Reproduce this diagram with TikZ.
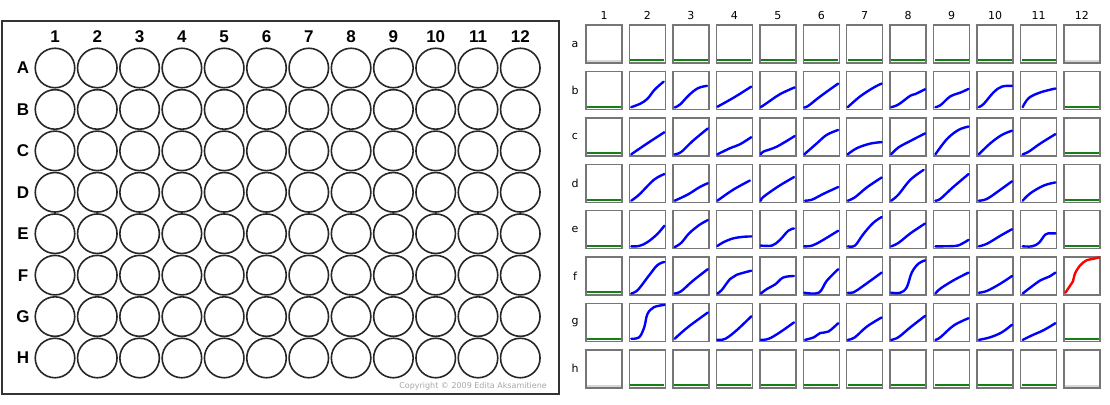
\documentclass[tikz,border=0pt]{standalone}
\usepackage{fontspec}
\setmainfont{DejaVu Sans}
\newfontfamily\platefont{Liberation Sans}
\usetikzlibrary{positioning,calc}

\definecolor{boxgray}{RGB}{118,118,118}
\definecolor{basegreen}{RGB}{20,128,20}
\definecolor{emptygray}{RGB}{215,215,215}

\tikzset{
  well/.style={circle,draw=black!85,line width=1.6pt,minimum size=39.5pt,inner sep=0pt},
  platelab/.style={font=\platefont\bfseries\fontsize{17}{19}\selectfont,inner sep=0pt},
  cellbox/.style={draw=boxgray,line width=1.4pt,minimum width=36pt,minimum height=38pt,inner sep=0pt,outer sep=0pt,anchor=north west},
  gridlab/.style={font=\fontsize{11}{13}\selectfont,inner sep=0pt},
  blueline/.style={draw=blue,line width=2.4pt,line cap=round,line join=round},
  redline/.style={draw=red,line width=2.4pt,line cap=round,line join=round},
  flatline/.style={draw=basegreen,line width=2.1pt},
  emptyline/.style={draw=emptygray,line width=2.1pt}
}

% one growth curve, coordinates in box units
\newcommand{\growth}[3][blueline]{%
  \begin{scope}[shift={(#2.south west)},x=36pt,y=38pt]
    \draw[#1] plot[smooth,tension=0.6] coordinates {#3};
  \end{scope}}

\begin{document}
\begin{tikzpicture}[x=1pt,y=-1pt]
    \useasboundingbox (0,0) rectangle (1110,404);

    % 96-well plate
    \draw[line width=2.2pt,draw=black!80] (2.2,21) rectangle (559,394);
    \foreach \R [count=\i] in {A,B,C,D,E,F,G,H}{
        \node[platelab] (row\R) at (23,{68+(\i-1)*41.43}) {\R};
        \foreach \c in {1,...,12}{
            \node[well] (\R\c) at ({55+(\c-1)*42.3},{68+(\i-1)*41.43}) {};
        }
    }
    \foreach \c in {1,...,12}{
        \node[platelab,anchor=base] (col\c) at ({55+(\c-1)*42.3},42) {\c};
    }
    \node[anchor=east,font=\fontsize{8}{9}\selectfont,text=black!35,inner sep=0pt] (copy) at (547,386) {Copyright \textcopyright{} 2009 Edita Aksamitiene};

    % growth curve grid
    \foreach \r [count=\i] in {a,b,c,d,e,f,g,h}{
        \node[gridlab] (l\r) at (575,{44+(\i-1)*46.4}) {\r};
        \foreach \c in {1,...,12}{
            \node[cellbox] (\r\c) at ({586+(\c-1)*43.45},{25+(\i-1)*46.4}) {};
        }
    }
    \foreach \c in {1,...,12}{
        \node[gridlab,anchor=base] (n\c) at ({604+(\c-1)*43.45},20) {\c};
    }

    % flat wells on the edge
    \foreach \w in {a2,a3,a4,a5,a6,a7,a8,a9,a10,a11,h2,h3,h4,h5,h6,h7,h8,h9,h10,h11,b1,c1,d1,e1,f1,g1,b12,c12,d12,e12,g12}{
        \draw[flatline] ([xshift=1pt,yshift=2.6pt]\w.south west) -- ([xshift=-1pt,yshift=2.6pt]\w.south east);
    }
    \foreach \w in {a1,a12,h1,h12}{
        \draw[emptyline] ([xshift=1pt,yshift=1.6pt]\w.south west) -- ([xshift=-1pt,yshift=1.6pt]\w.south east);
    }

    % row b
    \growth{b2}{(0.05,0.06) (0.3,0.15) (0.5,0.28) (0.7,0.52) (0.95,0.73)}
    \growth{b3}{(0.05,0.05) (0.2,0.13) (0.45,0.38) (0.7,0.56) (0.95,0.62)}
    \growth{b4}{(0.03,0.07) (0.5,0.32) (0.97,0.6)}
    \growth{b5}{(0.03,0.06) (0.2,0.17) (0.56,0.4) (0.97,0.58)}
    \growth{b6}{(0.03,0.05) (0.15,0.1) (0.47,0.34) (0.97,0.68)}
    \growth{b7}{(0.03,0.06) (0.37,0.34) (0.74,0.57) (0.97,0.68)}
    \growth{b8}{(0.03,0.06) (0.23,0.13) (0.56,0.36) (0.69,0.4) (0.97,0.53)}
    \growth{b9}{(0.05,0.06) (0.19,0.11) (0.46,0.34) (0.74,0.44) (0.97,0.54)}
    \growth{b10}{(0.05,0.06) (0.19,0.15) (0.46,0.45) (0.69,0.6) (0.97,0.62)}
    \growth{b11}{(0.06,0.06) (0.23,0.3) (0.56,0.45) (0.97,0.55)}

    % row c
    \growth{c2}{(0.05,0.04) (0.5,0.33) (0.97,0.62)}
    \growth{c3}{(0.05,0.04) (0.23,0.1) (0.55,0.39) (0.97,0.72)}
    \growth{c4}{(0.03,0.04) (0.38,0.2) (0.65,0.3) (0.97,0.49)}
    \growth{c5}{(0.03,0.04) (0.1,0.11) (0.47,0.24) (0.97,0.52)}
    \growth{c6}{(0.03,0.04) (0.38,0.33) (0.65,0.55) (0.97,0.68)}
    \growth{c7}{(0.03,0.04) (0.28,0.2) (0.65,0.32) (0.97,0.36)}
    \growth{c8}{(0.03,0.04) (0.23,0.22) (0.56,0.39) (0.97,0.59)}
    \growth{c9}{(0.05,0.04) (0.37,0.44) (0.69,0.68) (0.97,0.77)}
    \growth{c10}{(0.05,0.04) (0.37,0.33) (0.69,0.55) (0.97,0.66)}
    \growth{c11}{(0.06,0.04) (0.23,0.11) (0.56,0.33) (0.97,0.57)}

    % row d
    \growth{d2}{(0.05,0.04) (0.27,0.2) (0.68,0.59) (0.97,0.74)}
    \growth{d3}{(0.05,0.04) (0.41,0.2) (0.73,0.39) (0.97,0.5)}
    \growth{d4}{(0.03,0.04) (0.47,0.33) (0.93,0.57)}
    \growth{d5}{(0.03,0.04) (0.1,0.14) (0.52,0.42) (0.95,0.66)}
    \growth{d6}{(0.05,0.04) (0.25,0.07) (0.56,0.22) (0.97,0.4)}
    \growth{d7}{(0.03,0.04) (0.23,0.13) (0.56,0.39) (0.97,0.65)}
    \growth{d8}{(0.03,0.04) (0.23,0.2) (0.56,0.59) (0.93,0.85)}
    \growth{d9}{(0.05,0.04) (0.19,0.09) (0.51,0.37) (0.97,0.74)}
    \growth{d10}{(0.05,0.04) (0.28,0.09) (0.65,0.33) (0.97,0.55)}
    \growth{d11}{(0.06,0.04) (0.28,0.24) (0.65,0.44) (0.97,0.52)}

    % row e
    \growth{e2}{(0.05,0.06) (0.27,0.07) (0.5,0.17) (0.77,0.38) (0.97,0.6)}
    \growth{e3}{(0.05,0.04) (0.23,0.15) (0.45,0.4) (0.73,0.62) (0.97,0.75)}
    \growth{e4}{(0.03,0.07) (0.2,0.17) (0.47,0.27) (0.75,0.31) (0.97,0.32)}
    \growth{e5}{(0.03,0.08) (0.34,0.08) (0.56,0.23) (0.79,0.47) (0.95,0.53)}
    \growth{e6}{(0.03,0.06) (0.25,0.08) (0.52,0.21) (0.97,0.47)}
    \growth{e7}{(0.03,0.06) (0.23,0.08) (0.46,0.38) (0.74,0.68) (0.97,0.83)}
    \growth{e8}{(0.03,0.06) (0.23,0.15) (0.56,0.4) (0.97,0.66)}
    \growth{e9}{(0.05,0.06) (0.6,0.07) (0.79,0.13) (0.97,0.23)}
    \growth{e10}{(0.05,0.06) (0.28,0.13) (0.65,0.34) (0.97,0.51)}
    \growth{e11}{(0.06,0.06) (0.32,0.06) (0.51,0.15) (0.69,0.37) (0.83,0.4) (0.97,0.4)}

    % row f
    \growth{f2}{(0.05,0.04) (0.23,0.13) (0.5,0.46) (0.77,0.78) (0.97,0.87)}
    \growth{f3}{(0.05,0.04) (0.23,0.1) (0.55,0.37) (0.97,0.68)}
    \growth{f4}{(0.03,0.04) (0.15,0.13) (0.38,0.42) (0.56,0.53) (0.97,0.64)}
    \growth{f5}{(0.03,0.04) (0.2,0.16) (0.43,0.28) (0.65,0.46) (0.95,0.5)}
    \growth{f6}{(0.03,0.06) (0.43,0.06) (0.65,0.37) (0.97,0.68)}
    \growth{f7}{(0.03,0.06) (0.19,0.07) (0.46,0.24) (0.97,0.59)}
    \growth{f8}{(0.03,0.06) (0.28,0.06) (0.46,0.2) (0.6,0.59) (0.79,0.83) (0.97,0.91)}
    \growth{f9}{(0.05,0.04) (0.19,0.17) (0.56,0.39) (0.97,0.59)}
    \growth{f10}{(0.05,0.06) (0.28,0.11) (0.65,0.3) (0.97,0.5)}
    \growth{f11}{(0.06,0.04) (0.28,0.2) (0.56,0.39) (0.79,0.48) (0.97,0.59)}
    \growth[redline]{f12}{(0.04,0.06) (0.16,0.23) (0.25,0.36) (0.3,0.55) (0.44,0.77) (0.62,0.91) (0.81,0.95) (0.98,0.99)}

    % row g
    \growth{g2}{(0.05,0.07) (0.27,0.11) (0.41,0.37) (0.5,0.72) (0.68,0.9) (0.97,0.96)}
    \growth{g3}{(0.05,0.07) (0.41,0.37) (0.97,0.76)}
    \growth{g4}{(0.03,0.04) (0.25,0.07) (0.56,0.29) (0.97,0.66)}
    \growth{g5}{(0.03,0.04) (0.25,0.07) (0.56,0.24) (0.95,0.5)}
    \growth{g6}{(0.05,0.04) (0.3,0.11) (0.47,0.22) (0.7,0.26) (0.97,0.48)}
    \growth{g7}{(0.03,0.04) (0.23,0.11) (0.56,0.39) (0.97,0.63)}
    \growth{g8}{(0.03,0.04) (0.23,0.11) (0.56,0.37) (0.97,0.67)}
    \growth{g9}{(0.05,0.04) (0.19,0.11) (0.56,0.42) (0.97,0.61)}
    \growth{g10}{(0.05,0.04) (0.37,0.11) (0.69,0.24) (0.97,0.44)}
    \growth{g11}{(0.06,0.04) (0.32,0.16) (0.65,0.3) (0.97,0.48)}

\end{tikzpicture}
\end{document}
